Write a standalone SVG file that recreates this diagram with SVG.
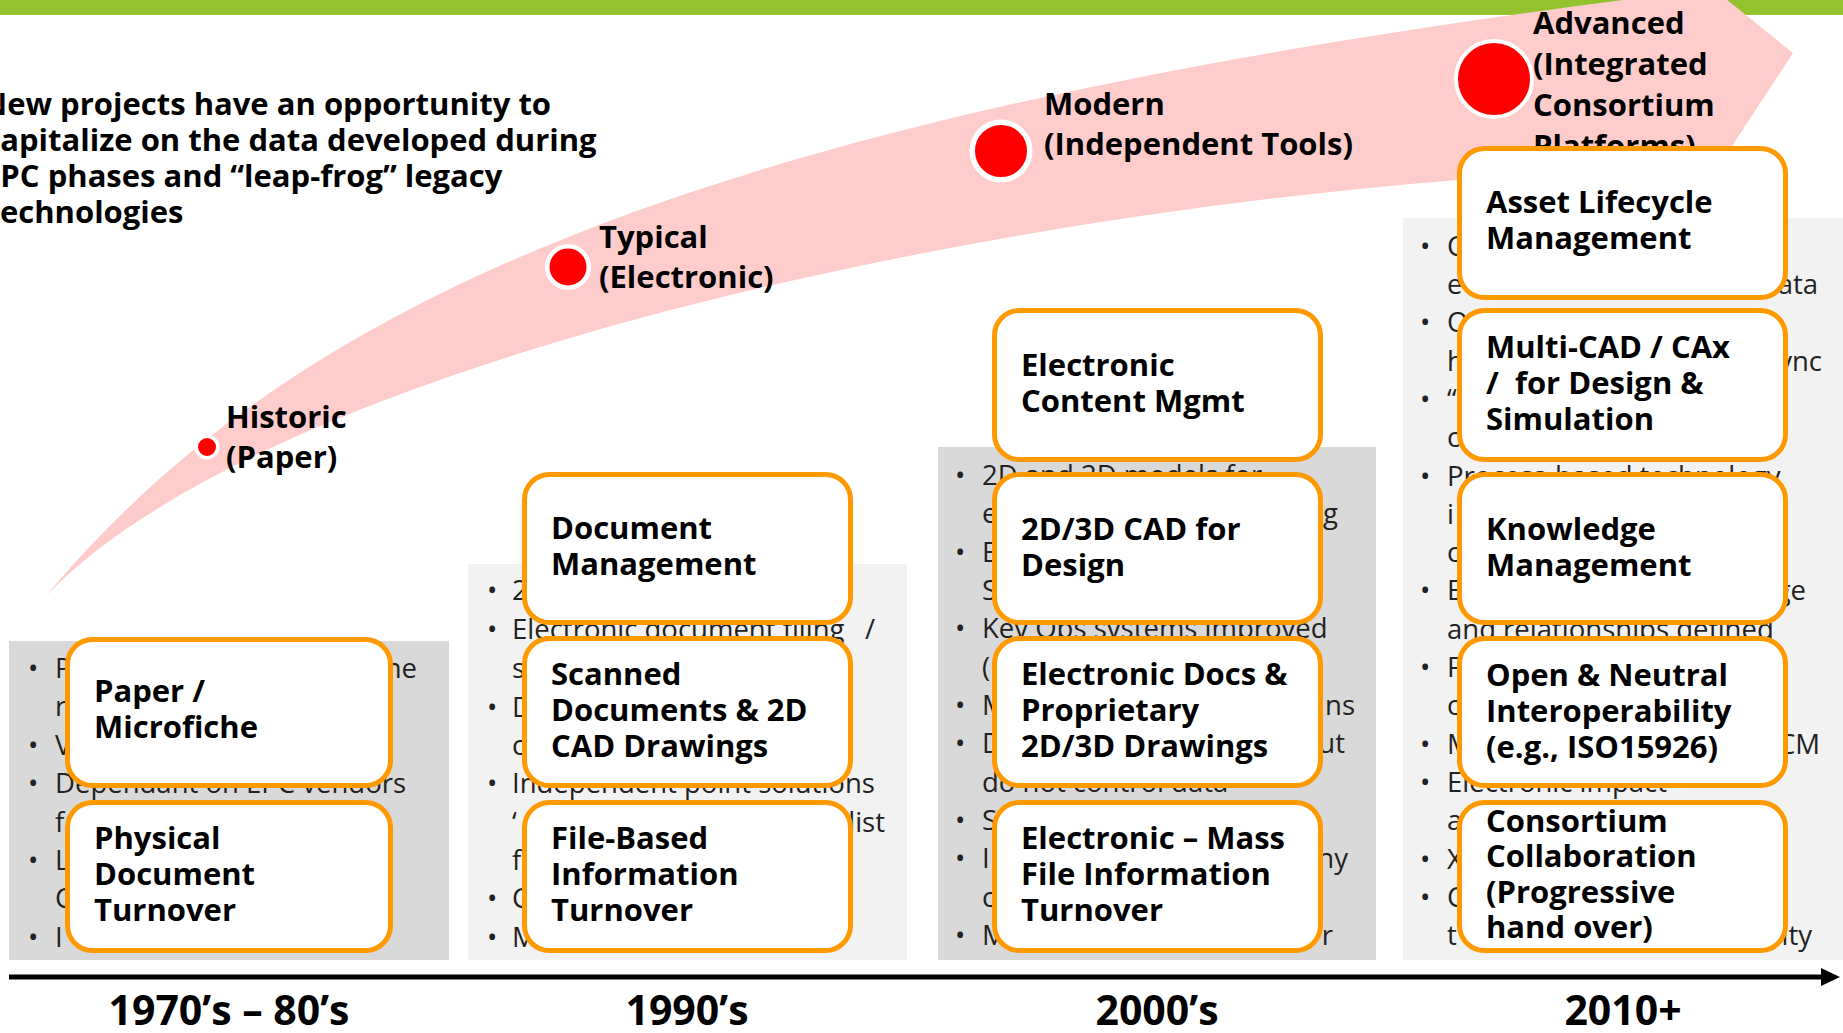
<svg xmlns="http://www.w3.org/2000/svg" width="1843" height="1033" viewBox="0 0 1843 1033">
<style>
.bt{font-family:'Open Sans','Liberation Sans',sans-serif;font-weight:700;font-size:31px;fill:#000}
.pt{font-family:'Open Sans','Liberation Sans',sans-serif;font-size:27.5px;fill:#222}
.re{text-anchor:end}
.yr{font-family:'Open Sans','Liberation Sans',sans-serif;font-weight:700;font-size:41px;fill:#000;text-anchor:middle}
.box{fill:#fff;stroke:#FF9900;stroke-width:5}
.dot{fill:#FF0000;stroke:#fff}
.pd{fill:#D9D9D9}
.pl{fill:#F2F2F2}
</style>
<rect width="1843" height="1033" fill="#fff"/>
<rect id="topbar" x="0" y="0" width="1843" height="15" fill="#93C22F"/>

<g id="progress-arrow">
<path d="M45,597 C300,291 723,117 1623,0 L1660,-5 L1690,-30 L1793,53 L1700,195 L1600,170 L1457,180 C900,225 250,380 45,597 Z" fill="#FFCCCC"/>
</g>

<g id="intro">
<text class="bt"><tspan x="-18" y="115">New projects have an opportunity to</tspan><tspan x="-19.5" y="151">Capitalize on the data developed during</tspan><tspan x="-17" y="187">EPC phases and “leap-frog” legacy</tspan><tspan x="-13.5" y="223">technologies</tspan></text>
</g>

<g id="stage-historic">
<circle class="dot" cx="207" cy="447" r="10.75" stroke-width="3.5"/>
<text class="bt"><tspan x="226" y="428">Historic</tspan><tspan x="226" y="468">(Paper)</tspan></text>
</g>
<g id="stage-typical">
<circle class="dot" cx="568" cy="267" r="20.75" stroke-width="4.5"/>
<text class="bt"><tspan x="599" y="248">Typical</tspan><tspan x="599" y="288">(Electronic)</tspan></text>
</g>
<g id="stage-modern">
<circle class="dot" cx="1001" cy="151" r="28.75" stroke-width="5.5"/>
<text class="bt"><tspan x="1044" y="115">Modern</tspan><tspan x="1044" y="155">(Independent Tools)</tspan></text>
</g>
<g id="stage-advanced">
<circle class="dot" cx="1494" cy="79" r="38" stroke-width="4"/>
<text class="bt"><tspan x="1533" y="34">Advanced</tspan><tspan x="1533" y="75">(Integrated</tspan><tspan x="1533" y="116">Consortium</tspan><tspan x="1533" y="157">Platforms)</tspan></text>
</g>

<g id="panel-1970s">
<rect class="pd" x="9" y="641" width="440" height="319"/>
<text class="pt" y="678"><tspan x="28">•</tspan><tspan x="55">P</tspan></text>
<text class="pt re" x="417" y="678">ne</text>
<text class="pt" x="55" y="716">r</text>
<text class="pt" y="755"><tspan x="28">•</tspan><tspan x="55">V</tspan></text>
<text class="pt" y="793"><tspan x="28">•</tspan><tspan x="55">Dependant on EPC vendors</tspan></text>
<text class="pt" x="55" y="832">f</text>
<text class="pt" y="870"><tspan x="28">•</tspan><tspan x="55">L</tspan></text>
<text class="pt" x="55" y="908">C</text>
<text class="pt" y="947"><tspan x="28">•</tspan><tspan x="55">I</tspan></text>
</g>

<g id="panel-1990s">
<rect class="pl" x="468" y="564" width="439" height="396"/>
<text class="pt" y="600"><tspan x="487">•</tspan><tspan x="512">2</tspan></text>
<text class="pt" y="639"><tspan x="487">•</tspan><tspan x="512">Electronic document filing</tspan><tspan x="865">/</tspan></text>
<text class="pt" x="512" y="678">s</text>
<text class="pt" y="717"><tspan x="487">•</tspan><tspan x="512">D</tspan></text>
<text class="pt" x="512" y="755">c</text>
<text class="pt" y="793"><tspan x="487">•</tspan><tspan x="512">Independent point solutions</tspan></text>
<text class="pt" x="512" y="832">‘</text>
<text class="pt re" x="885" y="832">list</text>
<text class="pt" x="512" y="870">f</text>
<text class="pt" y="908"><tspan x="487">•</tspan><tspan x="512">C</tspan></text>
<text class="pt" y="947"><tspan x="487">•</tspan><tspan x="512">M</tspan></text>
</g>

<g id="panel-2000s">
<rect class="pd" x="938" y="447" width="438" height="513"/>
<text class="pt" y="485"><tspan x="955">•</tspan><tspan x="982">2D and 3D models for</tspan></text>
<text class="pt" x="982" y="523">e</text>
<text class="pt re" x="1338" y="523">g</text>
<text class="pt" y="562"><tspan x="955">•</tspan><tspan x="982">E</tspan></text>
<text class="pt" x="982" y="600">S</text>
<text class="pt" y="638"><tspan x="955">•</tspan><tspan x="982">Key Ops systems improved</tspan></text>
<text class="pt" x="982" y="677">(</text>
<text class="pt" y="715"><tspan x="955">•</tspan><tspan x="982">M</tspan></text>
<text class="pt re" x="1355" y="715">ns</text>
<text class="pt" y="753"><tspan x="955">•</tspan><tspan x="982">D</tspan></text>
<text class="pt re" x="1345" y="753">ut</text>
<text class="pt" x="982" y="792">do not control data</text>
<text class="pt" y="830"><tspan x="955">•</tspan><tspan x="982">S</tspan></text>
<text class="pt" y="868"><tspan x="955">•</tspan><tspan x="982">I</tspan></text>
<text class="pt re" x="1348" y="868">ny</text>
<text class="pt" x="982" y="907">c</text>
<text class="pt" y="945"><tspan x="955">•</tspan><tspan x="982">M</tspan></text>
<text class="pt re" x="1333" y="945">r</text>
</g>

<g id="panel-2010s">
<rect class="pl" x="1403" y="218" width="440" height="742"/>
<text class="pt" y="256"><tspan x="1420">•</tspan><tspan x="1447">C</tspan></text>
<text class="pt" x="1447" y="294">e</text>
<text class="pt re" x="1818" y="294">ata</text>
<text class="pt" y="332"><tspan x="1420">•</tspan><tspan x="1447">O</tspan></text>
<text class="pt" x="1447" y="371">h</text>
<text class="pt re" x="1822" y="371">ync</text>
<text class="pt" y="409"><tspan x="1420">•</tspan><tspan x="1447">“</tspan></text>
<text class="pt" x="1447" y="447">c</text>
<text class="pt" y="486"><tspan x="1420">•</tspan><tspan x="1447">Process-based technology</tspan></text>
<text class="pt" x="1447" y="524">i</text>
<text class="pt" x="1447" y="562">c</text>
<text class="pt" y="600"><tspan x="1420">•</tspan><tspan x="1447">E</tspan></text>
<text class="pt re" x="1806" y="600">ge</text>
<text class="pt" x="1447" y="639">and relationships defined</text>
<text class="pt" y="677"><tspan x="1420">•</tspan><tspan x="1447">F</tspan></text>
<text class="pt" x="1447" y="715">c</text>
<text class="pt" y="754"><tspan x="1420">•</tspan><tspan x="1447">M</tspan></text>
<text class="pt re" x="1820" y="754">CM</text>
<text class="pt" y="792"><tspan x="1420">•</tspan><tspan x="1447">Electronic impact</tspan></text>
<text class="pt" x="1447" y="830">a</text>
<text class="pt" y="869"><tspan x="1420">•</tspan><tspan x="1447">X</tspan></text>
<text class="pt" y="907"><tspan x="1420">•</tspan><tspan x="1447">C</tspan></text>
<text class="pt" x="1447" y="945">t</text>
<text class="pt re" x="1812" y="945">ity</text>
</g>

<g id="node-paper">
<rect class="box" x="67.5" y="639.5" width="323" height="146" rx="25"/>
<text class="bt"><tspan x="94" y="702">Paper /</tspan><tspan x="94" y="738">Microfiche</tspan></text>
</g>
<g id="node-physical">
<rect class="box" x="67.5" y="802.5" width="323" height="148" rx="25"/>
<text class="bt"><tspan x="94" y="849">Physical</tspan><tspan x="94" y="885">Document</tspan><tspan x="94" y="921">Turnover</tspan></text>
</g>

<g id="node-docmgmt">
<rect class="box" x="524.5" y="474.5" width="326" height="148" rx="25"/>
<text class="bt"><tspan x="551" y="539">Document</tspan><tspan x="551" y="575">Management</tspan></text>
</g>
<g id="node-scanned">
<rect class="box" x="524.5" y="638.5" width="326" height="147" rx="25"/>
<text class="bt"><tspan x="551" y="685">Scanned</tspan><tspan x="551" y="721">Documents &amp; 2D</tspan><tspan x="551" y="757">CAD Drawings</tspan></text>
</g>
<g id="node-filebased">
<rect class="box" x="524.5" y="802.5" width="326" height="148" rx="25"/>
<text class="bt"><tspan x="551" y="849">File-Based</tspan><tspan x="551" y="885">Information</tspan><tspan x="551" y="921">Turnover</tspan></text>
</g>

<g id="node-ecm">
<rect class="box" x="994.5" y="310.5" width="326" height="149" rx="25"/>
<text class="bt"><tspan x="1021" y="376">Electronic</tspan><tspan x="1021" y="412">Content Mgmt</tspan></text>
</g>
<g id="node-cad">
<rect class="box" x="994.5" y="474.5" width="326" height="148" rx="25"/>
<text class="bt"><tspan x="1021" y="540">2D/3D CAD for</tspan><tspan x="1021" y="576">Design</tspan></text>
</g>
<g id="node-edocs">
<rect class="box" x="994.5" y="638.5" width="326" height="147" rx="25"/>
<text class="bt"><tspan x="1021" y="685">Electronic Docs &amp;</tspan><tspan x="1021" y="721">Proprietary</tspan><tspan x="1021" y="757">2D/3D Drawings</tspan></text>
</g>
<g id="node-mass">
<rect class="box" x="994.5" y="802.5" width="326" height="148" rx="25"/>
<text class="bt"><tspan x="1021" y="849">Electronic – Mass</tspan><tspan x="1021" y="885">File Information</tspan><tspan x="1021" y="921">Turnover</tspan></text>
</g>

<g id="node-alm">
<rect class="box" x="1459.5" y="148.5" width="326" height="149" rx="25"/>
<text class="bt"><tspan x="1486" y="213">Asset Lifecycle</tspan><tspan x="1486" y="249">Management</tspan></text>
</g>
<g id="node-multicad">
<rect class="box" x="1459.5" y="310.5" width="326" height="149" rx="25"/>
<text class="bt" style="white-space:pre"><tspan x="1486" y="358">Multi-CAD / CAx</tspan><tspan x="1486" y="394">/  for Design &amp;</tspan><tspan x="1486" y="430">Simulation</tspan></text>
</g>
<g id="node-knowledge">
<rect class="box" x="1459.5" y="474.5" width="326" height="148" rx="25"/>
<text class="bt"><tspan x="1486" y="540">Knowledge</tspan><tspan x="1486" y="576">Management</tspan></text>
</g>
<g id="node-interop">
<rect class="box" x="1459.5" y="638.5" width="326" height="147" rx="25"/>
<text class="bt"><tspan x="1486" y="686">Open &amp; Neutral</tspan><tspan x="1486" y="722">Interoperability</tspan><tspan x="1486" y="758">(e.g., ISO15926)</tspan></text>
</g>
<g id="node-consortium">
<rect class="box" x="1459.5" y="802.5" width="326" height="148" rx="25"/>
<text class="bt"><tspan x="1486" y="832">Consortium</tspan><tspan x="1486" y="867">Collaboration</tspan><tspan x="1486" y="903">(Progressive</tspan><tspan x="1486" y="938">hand over)</tspan></text>
</g>

<g id="connectors">
<line x1="9" y1="977" x2="1825" y2="977" stroke="#000" stroke-width="5"/>
<polygon points="1821,968 1840,977 1821,986" fill="#000"/>
</g>

<g id="timeline-labels">
<text class="yr" x="229" y="1025">1970’s – 80’s</text>
<text class="yr" x="687" y="1025">1990’s</text>
<text class="yr" x="1157" y="1025">2000’s</text>
<text class="yr" x="1623" y="1025">2010+</text>
</g>
</svg>
